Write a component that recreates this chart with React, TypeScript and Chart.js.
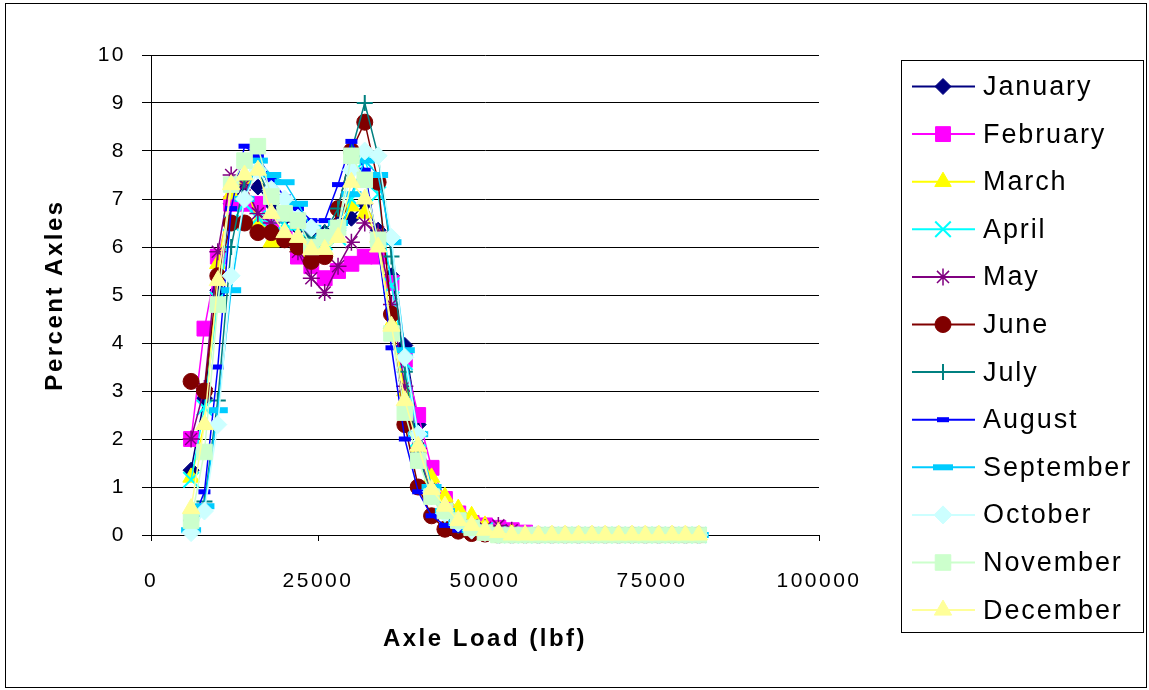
import React, { useEffect, useRef } from "react";
import { Chart, registerables } from "chart.js";
import { drawPoint } from "chart.js/helpers";

Chart.register(...registerables);

const axleLoads = [6000, 8000, 10000, 12000, 14000, 16000, 18000, 20000, 22000, 24000, 26000, 28000, 30000, 32000, 34000, 36000, 38000, 40000, 42000, 44000, 46000, 48000, 50000, 52000, 54000, 56000, 58000, 60000, 62000, 64000, 66000, 68000, 70000, 72000, 74000, 76000, 78000, 80000, 82000];

const january = [1.35, 2.85, 5.1, 6.9, 7.3, 7.25, 6.9, 6.6, 6.4, 6.3, 6.3, 6.5, 6.6, 6.9, 6.35, 5.4, 3.95, 2.3, 1.0, 0.5, 0.3, 0.15, 0.1, 0.05, 0.02, 0, 0, 0, 0, 0, 0, 0, 0, 0, 0, 0, 0, 0, 0];
const february = [2.0, 4.3, 5.8, 6.9, 6.9, 6.9, 6.5, 6.2, 5.8, 5.6, 5.35, 5.5, 5.65, 5.8, 5.8, 5.25, 3.65, 2.5, 1.4, 0.75, 0.45, 0.25, 0.2, 0.15, 0.1, 0.05, 0, 0, 0, 0, 0, 0, 0, 0, 0, 0, 0, 0, 0];
const march = [1.2, 2.3, 5.65, 7.1, 7.4, 6.5, 6.1, 6.2, 6.0, 5.9, 5.9, 6.2, 6.85, 6.7, 6.2, 4.4, 3.0, 1.8, 1.2, 0.8, 0.55, 0.4, 0.2, 0.1, 0.05, 0, 0, 0, 0, 0, 0, 0, 0, 0, 0, 0, 0, 0, 0];
const april = [1.15, 2.65, 4.9, 6.5, 6.9, 6.6, 6.5, 6.5, 6.3, 6.1, 6.1, 6.2, 7.0, 7.8, 7.1, 5.2, 3.6, 2.0, 0.9, 0.5, 0.3, 0.15, 0.1, 0.05, 0, 0, 0, 0, 0, 0, 0, 0, 0, 0, 0, 0, 0, 0, 0];
const may = [2.0, 3.05, 5.9, 7.5, 7.3, 6.7, 6.5, 6.2, 5.9, 5.35, 5.05, 5.6, 6.1, 6.5, 6.3, 4.8, 3.1, 1.8, 0.9, 0.5, 0.3, 0.2, 0.15, 0.2, 0.1, 0, 0, 0, 0, 0, 0, 0, 0, 0, 0, 0, 0, 0, 0];
const june = [3.2, 3.0, 5.4, 6.5, 6.5, 6.3, 6.3, 6.15, 6.0, 5.7, 5.8, 6.8, 8.0, 8.6, 7.35, 4.6, 2.3, 1.0, 0.4, 0.12, 0.08, 0.03, 0.02, 0, 0, 0, 0, 0, 0, 0, 0, 0, 0, 0, 0, 0, 0, 0, 0];
const july = [0.3, 0.7, 2.8, 6.0, 7.4, 7.6, 7.0, 6.7, 6.4, 6.2, 6.3, 6.8, 8.0, 9.0, 7.9, 5.8, 3.4, 1.7, 0.8, 0.4, 0.2, 0.1, 0.05, 0, 0, 0, 0, 0, 0, 0, 0, 0, 0, 0, 0, 0, 0, 0, 0];
const august = [0.2, 0.9, 3.5, 6.8, 8.1, 7.9, 7.4, 7.05, 6.8, 6.55, 6.55, 7.3, 8.2, 7.6, 6.0, 3.9, 2.0, 0.9, 0.4, 0.2, 0.1, 0.05, 0.02, 0, 0, 0, 0, 0, 0, 0, 0, 0, 0, 0, 0, 0, 0, 0, 0];
const september = [0.1, 0.6, 2.6, 5.1, 7.0, 7.8, 7.5, 7.35, 6.9, 6.4, 6.2, 6.5, 7.1, 7.8, 7.5, 6.1, 3.85, 2.1, 1.0, 0.5, 0.25, 0.1, 0.05, 0, 0, 0, 0, 0, 0, 0, 0, 0, 0, 0, 0, 0, 0, 0, 0];
const october = [0.05, 0.5, 2.3, 5.4, 7.0, 7.6, 7.2, 7.0, 6.6, 6.4, 6.2, 6.4, 7.6, 8.0, 7.9, 6.2, 3.7, 2.1, 0.9, 0.45, 0.25, 0.1, 0.05, 0, 0, 0, 0, 0, 0, 0, 0, 0, 0, 0, 0, 0, 0, 0, 0];
const november = [0.3, 1.73, 4.8, 7.3, 7.8, 8.1, 7.05, 6.7, 6.55, 6.0, 6.2, 6.4, 7.9, 7.4, 6.15, 4.2, 2.55, 1.55, 0.8, 0.5, 0.3, 0.15, 0.05, 0, 0, 0, 0, 0, 0, 0, 0, 0, 0, 0, 0, 0, 0, 0, 0];
const december = [0.55, 2.3, 5.3, 7.3, 7.5, 7.6, 6.7, 6.3, 6.2, 5.95, 5.95, 6.2, 7.35, 7.0, 6.0, 4.35, 2.8, 1.85, 0.95, 0.6, 0.3, 0.2, 0.1, 0.05, 0, 0, 0, 0, 0, 0, 0, 0, 0, 0, 0, 0, 0, 0, 0];

const seriesNames = ["January", "February", "March", "April", "May", "June", "July", "August", "September", "October", "November", "December"];
const seriesValues = [january, february, march, april, may, june, july, august, september, october, november, december];
const yTicks = [0, 1, 2, 3, 4, 5, 6, 7, 8, 9, 10];
const xTicks = [0, 25000, 50000, 75000, 100000];

const styles = [
  { color: "#000080", pointStyle: "rectRot", radius: 8, bw: 1 },
  { color: "#FF00FF", pointStyle: "rect", radius: 10.5, bw: 1 },
  { color: "#FFFF00", pointStyle: "triangle", radius: 9.5, bw: 1 },
  { color: "#00FFFF", pointStyle: "crossRot", radius: 11, bw: 2 },
  { color: "#800080", pointStyle: "star", radius: 8.5, bw: 1.5 },
  { color: "#800000", pointStyle: "circle", radius: 8, bw: 1 },
  { color: "#008080", pointStyle: "cross", radius: 8, bw: 2 },
  { color: "#0000FF", pointStyle: "line", radius: 6, bw: 5 },
  { color: "#00CCFF", pointStyle: "line", radius: 10, bw: 6 },
  { color: "#CCFFFF", pointStyle: "rectRot", radius: 9, bw: 1 },
  { color: "#CCFFCC", pointStyle: "rect", radius: 11, bw: 1 },
  { color: "#FFFF99", pointStyle: "triangle", radius: 10, bw: 1 },
];

const FONT = '"Liberation Sans", Arial, sans-serif';

const framePlugin = {
  id: "frame",
  beforeDraw(chart: any) {
    const ctx = chart.ctx;
    ctx.save();
    ctx.fillStyle = "#fff";
    ctx.fillRect(0, 0, chart.width, chart.height);
    ctx.strokeStyle = "#000";
    ctx.lineWidth = 1;
    ctx.strokeRect(5.5, 3.5, 1141, 684);
    ctx.restore();
    (ctx as any).letterSpacing = "2.5px";
  },
};

const legendPlugin = {
  id: "customLegend",
  afterDraw(chart: any) {
    const ctx = chart.ctx;
    ctx.save();
    (ctx as any).letterSpacing = "1.9px";
    ctx.fillStyle = "#fff";
    ctx.fillRect(901.5, 60.5, 242, 572);
    ctx.strokeStyle = "#000";
    ctx.lineWidth = 1;
    ctx.strokeRect(901.5, 60.5, 242, 572);
    chart.data.datasets.forEach((ds: any, i: number) => {
      const y = 86.5 + i * 47.6;
      ctx.strokeStyle = ds.borderColor;
      ctx.lineWidth = 2;
      ctx.beginPath();
      ctx.moveTo(912, y);
      ctx.lineTo(975, y);
      ctx.stroke();
      ctx.fillStyle = ds.pointBackgroundColor;
      ctx.strokeStyle = ds.pointBorderColor;
      ctx.lineWidth = ds.pointBorderWidth;
      drawPoint(ctx, { pointStyle: ds.pointStyle, radius: ds.pointRadius, rotation: 0, borderWidth: ds.pointBorderWidth }, 943, y);
      ctx.fillStyle = "#000";
      ctx.font = `27px ${FONT}`;
      ctx.textBaseline = "middle";
      ctx.textAlign = "left";
      ctx.fillText(ds.label, 983, y + 1);
    });
    ctx.restore();
  },
};

export default function App() {
  const canvasRef = useRef<HTMLCanvasElement | null>(null);

  useEffect(() => {
    document.body.style.margin = "0";
    const canvas = canvasRef.current;
    if (!canvas) return;
    const datasets = seriesNames.map((name, i) => {
      const s = styles[i];
      return {
        label: name,
        data: axleLoads.map((x, j) => ({ x, y: seriesValues[i][j] })),
        borderColor: s.color,
        backgroundColor: s.color,
        borderWidth: 1.5,
        pointStyle: s.pointStyle,
        pointRadius: s.radius,
        pointBackgroundColor: s.color,
        pointBorderColor: s.color,
        pointBorderWidth: s.bw,
        tension: 0,
        clip: false,
        order: 12 - i,
      };
    });

    const chart = new Chart(canvas, {
      type: "line",
      data: { datasets },
      options: {
        animation: false,
        responsive: false,
        devicePixelRatio: 1,
        layout: { padding: { left: 0, top: 55, right: 330, bottom: 0 } },
        plugins: { legend: { display: false }, tooltip: { enabled: false } },
        scales: {
          x: {
            type: "linear",
            min: 0,
            max: 100000,
            afterFit: (scale: any) => { scale.height = 155; },
            afterBuildTicks: (scale: any) => { scale.ticks = xTicks.map((v) => ({ value: v })); },
            ticks: {
              color: "#000",
              font: { family: FONT, size: 21 },
              padding: 28,
              maxRotation: 0,
              autoSkip: false,
              callback: (v: any) => String(v),
            },
            grid: { drawOnChartArea: false, drawTicks: true, tickLength: 6, color: "#000" },
            border: { color: "#000", width: 1 },
            title: {
              display: true,
              text: "Axle Load (lbf)",
              color: "#000",
              font: { family: FONT, size: 24, weight: "bold" },
              padding: { top: 0, bottom: 36 },
            },
          },
          y: {
            type: "linear",
            min: 0,
            max: 10,
            afterFit: (scale: any) => { scale.width = 151; },
            afterBuildTicks: (scale: any) => { scale.ticks = yTicks.map((v) => ({ value: v })); },
            ticks: {
              color: "#000",
              font: { family: FONT, size: 21 },
              padding: 16,
              autoSkip: false,
            },
            grid: { color: "#000", lineWidth: 1, drawTicks: true, tickLength: 9 },
            border: { color: "#000", width: 1 },
            title: {
              display: true,
              text: "Percent Axles",
              color: "#000",
              font: { family: FONT, size: 24, weight: "bold" },
              padding: { top: 41, bottom: 0 },
            },
          },
        },
      } as any,
      plugins: [framePlugin, legendPlugin],
    });
    return () => chart.destroy();
  }, []);

  return (
    <div style={{ width: 1149, height: 690 }}>
      <canvas ref={canvasRef} width={1149} height={690} style={{ display: "block" }} />
    </div>
  );
}
